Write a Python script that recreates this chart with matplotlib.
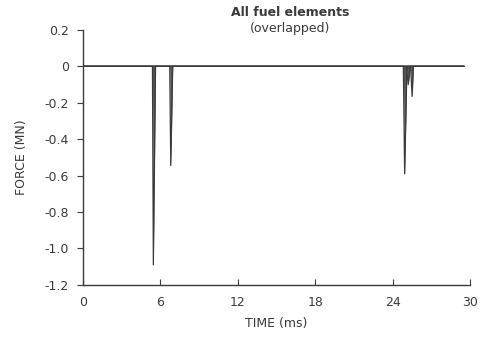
import matplotlib
matplotlib.use('Agg')
import matplotlib.pyplot as plt

# force histories of fuel elements (overlapped), time in ms, force in MN
elem_a_time = [0, 5.38, 5.45, 5.62, 29.5]
elem_a_force = [0, 0, -1.09, 0, 0]
elem_b_time = [0, 6.72, 6.8, 6.95, 29.5]
elem_b_force = [0, 0, -0.545, 0, 0]
elem_c_time = [0, 24.82, 24.92, 25.1, 29.5]
elem_c_force = [0, 0, -0.59, 0, 0]
elem_d_time = [0, 25.38, 25.5, 25.6, 29.5]
elem_d_force = [0, 0, -0.165, 0, 0]
elem_e_time = [0, 25.05, 25.2, 25.35, 29.5]
elem_e_force = [0, 0, -0.1, 0, 0]

xticks = [0, 6, 12, 18, 24, 30]
yticks = [0.2, 0, -0.2, -0.4, -0.6, -0.8, -1.0, -1.2]
ytick_labels = ['0.2', '0', '-0.2', '-0.4', '-0.6', '-0.8', '-1.0', '-1.2']

plt.rcParams['font.family'] = ['DejaVu Sans']
ink = '#3a3a3a'

fig = plt.figure(figsize=(4.84, 3.40), dpi=100)
ax = fig.add_axes([0.1715, 0.162, 0.80, 0.75])

for t, f in [(elem_a_time, elem_a_force), (elem_b_time, elem_b_force),
             (elem_c_time, elem_c_force), (elem_e_time, elem_e_force),
             (elem_d_time, elem_d_force)]:
    ax.fill_between(t, f, 0, color='#555555', lw=0)
    ax.plot(t, f, color=ink, lw=0.9)

ax.set_xlim(0, 30)
ax.set_ylim(-1.2, 0.2)
ax.set_xticks(xticks)
ax.set_yticks(yticks)
ax.set_yticklabels(ytick_labels)
ax.spines['top'].set_visible(False)
ax.spines['right'].set_visible(False)
for s in ['left', 'bottom']:
    ax.spines[s].set_color(ink)
    ax.spines[s].set_linewidth(1.0)
ax.tick_params(axis='x', direction='in', length=4, colors=ink,
               labelsize=9, pad=8)
ax.tick_params(axis='y', direction='out', length=4, colors=ink,
               labelsize=9, pad=6)

ax.set_xlabel('TIME (ms)', fontsize=9, color=ink, labelpad=6)
ax.set_ylabel('FORCE (MN)', fontsize=9, color=ink, labelpad=12)
fig.text(0.60, 0.962, 'All fuel elements', ha='center', va='center',
         fontsize=9, color=ink, fontweight='bold')
fig.text(0.60, 0.915, '(overlapped)', ha='center', va='center',
         fontsize=9, color=ink)

fig.savefig('out.png', dpi=100, facecolor='white')
